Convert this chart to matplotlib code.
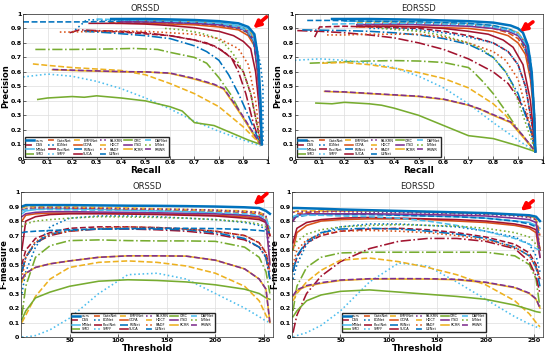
import matplotlib
matplotlib.use("Agg")
import matplotlib.pyplot as plt

# matlab default colours
BLUE = '#0072BD'
ORANGE = '#D95319'
YELLOW = '#EDB120'
PURPLE = '#7E2F8E'
GREEN = '#77AC30'
LBLUE = '#4DBEEE'
DRED = '#A2142F'

methods = ['ours', 'DSS', 'MINet', 'SMD', 'GateNet', 'EGNet', 'PoolNet', 'SMFF',
           'EMFINet', 'GCPA', 'R3Net', 'SUCA', 'PA-KRN', 'HDCT', 'RADF', 'U2Net',
           'CMC', 'ITSD', 'RCRR', 'DAFNet', 'LVNet', 'RRWR']

styles = {
    'ours': (BLUE, '-'), 'DSS': (DRED, '--'), 'MINet': (LBLUE, '-'), 'SMD': (GREEN, '-.'),
    'GateNet': (ORANGE, '--'), 'EGNet': (BLUE, ':'), 'PoolNet': (DRED, '-.'), 'SMFF': (LBLUE, ':'),
    'EMFINet': (YELLOW, '--'), 'GCPA': (ORANGE, '-'), 'R3Net': (BLUE, '-.'), 'SUCA': (DRED, '-'),
    'PA-KRN': (PURPLE, ':'), 'HDCT': (YELLOW, '--'), 'RADF': (ORANGE, ':'), 'U2Net': (BLUE, '--'),
    'CMC': (GREEN, '-'), 'ITSD': (PURPLE, '-'), 'RCRR': (YELLOW, '-'), 'DAFNet': (LBLUE, '--'),
    'LVNet': (GREEN, ':'), 'RRWR': (PURPLE, '--'),
}

# ---------------- PR curves, ORSSD (recall, precision) ----------------
top_r = [0.4, 0.5, 0.6, 0.7, 0.8, 0.88, 0.92, 0.945, 0.96, 0.975]
orssd_pr = {
    'ours': ([0.36, 0.5, 0.6, 0.7, 0.8, 0.88, 0.92, 0.945, 0.96, 0.97, 0.975],
             [0.965, 0.965, 0.962, 0.958, 0.95, 0.935, 0.91, 0.86, 0.7, 0.4, 0.1]),
    'MINet': (top_r, [0.96, 0.96, 0.955, 0.948, 0.938, 0.92, 0.895, 0.84, 0.65, 0.1]),
    'GateNet': ([0.35] + top_r[1:], [0.94, 0.94, 0.935, 0.93, 0.92, 0.9, 0.87, 0.8, 0.6, 0.1]),
    'EMFINet': ([0.45, 0.55, 0.65, 0.75, 0.85, 0.9, 0.93, 0.95, 0.965, 0.975],
                [0.955, 0.952, 0.948, 0.94, 0.92, 0.9, 0.87, 0.78, 0.5, 0.1]),
    'GCPA': ([0.38] + top_r[1:], [0.935, 0.935, 0.93, 0.925, 0.91, 0.89, 0.85, 0.78, 0.55, 0.1]),
    'PA-KRN': (top_r, [0.95, 0.95, 0.945, 0.94, 0.93, 0.91, 0.88, 0.82, 0.6, 0.1]),
    'ITSD': (top_r, [0.945, 0.945, 0.94, 0.935, 0.925, 0.905, 0.875, 0.81, 0.58, 0.1]),
    'DAFNet': ([0.3, 0.4, 0.5, 0.6, 0.7, 0.8, 0.88, 0.92, 0.95, 0.965, 0.975],
               [0.965, 0.96, 0.955, 0.95, 0.945, 0.935, 0.91, 0.88, 0.8, 0.55, 0.1]),
    'U2Net': ([0.0, 0.1, 0.25, 0.4, 0.6, 0.8, 0.9, 0.94, 0.96, 0.975],
              [0.945, 0.945, 0.945, 0.95, 0.945, 0.93, 0.9, 0.82, 0.6, 0.1]),
    'EGNet': ([0.2, 0.26, 0.4, 0.6, 0.8, 0.9, 0.95, 0.97, 0.98, 0.98],
              [0.87, 0.96, 0.955, 0.945, 0.925, 0.89, 0.8, 0.65, 0.5, 0.1]),
    'SUCA': ([0.27, 0.4, 0.5, 0.6, 0.7, 0.8, 0.86, 0.9, 0.93, 0.95, 0.965, 0.975],
             [0.935, 0.935, 0.93, 0.92, 0.905, 0.88, 0.85, 0.81, 0.76, 0.6, 0.35, 0.1]),
    'RADF': ([0.15, 0.2, 0.3, 0.5, 0.7, 0.8, 0.88, 0.92, 0.95, 0.97],
             [0.875, 0.875, 0.88, 0.88, 0.86, 0.83, 0.76, 0.65, 0.4, 0.1]),
    'PoolNet': ([0.19, 0.23, 0.3, 0.4, 0.5, 0.6, 0.7, 0.75, 0.8, 0.85, 0.88, 0.91, 0.94, 0.97],
                [0.87, 0.89, 0.885, 0.88, 0.87, 0.85, 0.82, 0.8, 0.76, 0.7, 0.6, 0.45, 0.25, 0.1]),
    'DSS': ([0.25, 0.4, 0.6, 0.7, 0.78, 0.82, 0.86, 0.9, 0.93, 0.96, 0.97],
            [0.885, 0.875, 0.85, 0.82, 0.78, 0.74, 0.68, 0.6, 0.45, 0.2, 0.1]),
    'R3Net': ([0.25, 0.35, 0.5, 0.6, 0.7, 0.75, 0.8, 0.84, 0.88, 0.92, 0.97],
              [0.88, 0.87, 0.85, 0.83, 0.78, 0.74, 0.68, 0.58, 0.45, 0.3, 0.1]),
    'LVNet': ([0.58, 0.65, 0.72, 0.78, 0.82, 0.86, 0.9, 0.93, 0.96, 0.975],
              [0.9, 0.89, 0.87, 0.84, 0.8, 0.72, 0.6, 0.45, 0.2, 0.1]),
    'SMD': ([0.05, 0.2, 0.35, 0.45, 0.55, 0.6, 0.7, 0.75, 0.8, 0.85, 0.9, 0.97],
            [0.755, 0.755, 0.758, 0.762, 0.755, 0.735, 0.7, 0.66, 0.56, 0.44, 0.28, 0.1]),
    'HDCT': ([0.04, 0.1, 0.2, 0.3, 0.4, 0.5, 0.6, 0.7, 0.8, 0.9, 0.97],
             [0.655, 0.645, 0.63, 0.62, 0.61, 0.58, 0.52, 0.45, 0.36, 0.22, 0.1]),
    'RCRR': ([0.12, 0.2, 0.3, 0.4, 0.5, 0.6, 0.7, 0.78, 0.82, 0.86, 0.9, 0.94, 0.97],
             [0.615, 0.61, 0.605, 0.6, 0.6, 0.59, 0.55, 0.51, 0.48, 0.38, 0.28, 0.17, 0.1]),
    'RRWR': ([0.12, 0.2, 0.3, 0.4, 0.5, 0.6, 0.7, 0.78, 0.82, 0.86, 0.9, 0.94, 0.97],
             [0.617, 0.612, 0.607, 0.602, 0.6, 0.592, 0.555, 0.515, 0.485, 0.39, 0.29, 0.18, 0.1]),
    'SMFF': ([0.0, 0.1, 0.2, 0.3, 0.4, 0.5, 0.6, 0.7, 0.8, 0.9, 0.97],
             [0.565, 0.585, 0.57, 0.535, 0.485, 0.42, 0.345, 0.26, 0.19, 0.13, 0.09]),
    'CMC': ([0.06, 0.1, 0.2, 0.25, 0.3, 0.4, 0.5, 0.6, 0.65, 0.7, 0.78, 0.85, 0.92, 0.97],
            [0.41, 0.42, 0.43, 0.425, 0.435, 0.42, 0.4, 0.36, 0.33, 0.25, 0.23, 0.18, 0.13, 0.1]),
}

# ---------------- PR curves, EORSSD ----------------
e_top = [0.25, 0.4, 0.5, 0.7, 0.8, 0.86, 0.9, 0.93, 0.95, 0.965, 0.97]
eorssd_pr = {
    'ours': ([0.15, 0.3, 0.5, 0.7, 0.8, 0.87, 0.9, 0.92, 0.94, 0.955, 0.965, 0.97],
             [0.965, 0.965, 0.96, 0.95, 0.94, 0.92, 0.9, 0.87, 0.78, 0.6, 0.3, 0.05]),
    'MINet': ([0.2, 0.3, 0.5, 0.7, 0.8, 0.86, 0.9, 0.93, 0.95, 0.965, 0.97],
              [0.95, 0.95, 0.945, 0.935, 0.92, 0.9, 0.87, 0.8, 0.65, 0.35, 0.05]),
    'DAFNet': ([0.15, 0.3, 0.5, 0.7, 0.8, 0.86, 0.9, 0.93, 0.95, 0.96, 0.97],
               [0.93, 0.935, 0.935, 0.925, 0.91, 0.89, 0.86, 0.8, 0.7, 0.5, 0.05]),
    'GateNet': (e_top, [0.92, 0.93, 0.93, 0.92, 0.9, 0.87, 0.83, 0.75, 0.6, 0.3, 0.05]),
    'EMFINet': (e_top, [0.94, 0.945, 0.94, 0.93, 0.915, 0.895, 0.87, 0.8, 0.65, 0.35, 0.05]),
    'GCPA': (e_top, [0.91, 0.915, 0.91, 0.9, 0.88, 0.85, 0.8, 0.72, 0.55, 0.3, 0.05]),
    'PA-KRN': (e_top, [0.93, 0.935, 0.935, 0.925, 0.91, 0.89, 0.86, 0.8, 0.65, 0.35, 0.05]),
    'ITSD': (e_top, [0.925, 0.93, 0.925, 0.915, 0.9, 0.88, 0.85, 0.78, 0.62, 0.33, 0.05]),
    'U2Net': ([0.05, 0.15, 0.3, 0.5, 0.7, 0.8, 0.87, 0.91, 0.94, 0.96, 0.97],
              [0.955, 0.955, 0.95, 0.945, 0.935, 0.92, 0.89, 0.84, 0.7, 0.45, 0.05]),
    'SUCA': ([0.25, 0.4, 0.5, 0.6, 0.7, 0.78, 0.84, 0.88, 0.92, 0.95, 0.97],
             [0.915, 0.915, 0.91, 0.9, 0.88, 0.86, 0.82, 0.77, 0.65, 0.4, 0.05]),
    'EGNet': ([0.3, 0.4, 0.5, 0.6, 0.7, 0.8, 0.86, 0.9, 0.93, 0.95, 0.97],
              [0.9, 0.9, 0.89, 0.87, 0.84, 0.8, 0.74, 0.65, 0.5, 0.3, 0.05]),
    'DSS': ([0.08, 0.1, 0.2, 0.3, 0.5, 0.6, 0.7, 0.8, 0.86, 0.9, 0.93, 0.96, 0.97],
            [0.84, 0.91, 0.915, 0.91, 0.9, 0.88, 0.85, 0.8, 0.74, 0.65, 0.5, 0.2, 0.05]),
    'PoolNet': ([0.01, 0.1, 0.2, 0.3, 0.4, 0.5, 0.6, 0.7, 0.8, 0.86, 0.9, 0.93, 0.96, 0.97],
                [0.885, 0.88, 0.87, 0.855, 0.835, 0.8, 0.755, 0.69, 0.6, 0.52, 0.42, 0.32, 0.15, 0.05]),
    'R3Net': ([0.03, 0.2, 0.3, 0.4, 0.5, 0.6, 0.7, 0.75, 0.8, 0.85, 0.9, 0.95, 0.97],
              [0.89, 0.885, 0.88, 0.87, 0.855, 0.83, 0.79, 0.75, 0.7, 0.6, 0.45, 0.2, 0.05]),
    'RADF': ([0.13, 0.2, 0.3, 0.5, 0.6, 0.7, 0.8, 0.85, 0.9, 0.94, 0.97],
             [0.855, 0.855, 0.86, 0.86, 0.84, 0.8, 0.74, 0.68, 0.55, 0.3, 0.05]),
    'LVNet': ([0.35, 0.5, 0.6, 0.7, 0.76, 0.8, 0.85, 0.88, 0.92, 0.95, 0.97],
              [0.9, 0.88, 0.85, 0.8, 0.75, 0.7, 0.6, 0.5, 0.3, 0.15, 0.05]),
    'SMD': ([0.06, 0.2, 0.3, 0.4, 0.5, 0.6, 0.7, 0.72, 0.76, 0.8, 0.85, 0.9, 0.97],
            [0.66, 0.67, 0.675, 0.678, 0.675, 0.665, 0.63, 0.6, 0.53, 0.45, 0.33, 0.2, 0.05]),
    'HDCT': ([0.11, 0.2, 0.3, 0.4, 0.5, 0.6, 0.7, 0.8, 0.85, 0.9, 0.97],
             [0.66, 0.665, 0.65, 0.625, 0.595, 0.555, 0.49, 0.38, 0.3, 0.2, 0.05]),
    'SMFF': ([0.0, 0.1, 0.2, 0.3, 0.4, 0.5, 0.6, 0.7, 0.8, 0.9, 0.97],
             [0.68, 0.69, 0.68, 0.66, 0.63, 0.57, 0.49, 0.38, 0.25, 0.13, 0.05]),
    'RCRR': ([0.12, 0.2, 0.3, 0.4, 0.5, 0.6, 0.7, 0.75, 0.8, 0.87, 0.92, 0.97],
             [0.465, 0.46, 0.45, 0.44, 0.43, 0.41, 0.37, 0.34, 0.3, 0.25, 0.15, 0.05]),
    'RRWR': ([0.12, 0.2, 0.3, 0.4, 0.5, 0.6, 0.7, 0.75, 0.8, 0.87, 0.92, 0.97],
             [0.467, 0.462, 0.452, 0.442, 0.432, 0.412, 0.372, 0.342, 0.305, 0.255, 0.16, 0.05]),
    'CMC': ([0.085, 0.15, 0.2, 0.3, 0.35, 0.4, 0.5, 0.6, 0.7, 0.75, 0.8, 0.9, 0.97],
            [0.385, 0.38, 0.39, 0.38, 0.37, 0.35, 0.3, 0.23, 0.16, 0.15, 0.14, 0.09, 0.05]),
}

# ---------------- F-measure vs threshold ----------------
thresh = [1, 5, 15, 30, 50, 80, 110, 140, 170, 200, 230, 245, 252, 256]

orssd_f = {
    'MINet': [0.85, 0.87, 0.88, 0.885, 0.885, 0.88, 0.875, 0.87, 0.865, 0.855, 0.84, 0.83, 0.8, 0.75],
    'GateNet': [0.87, 0.885, 0.89, 0.89, 0.89, 0.885, 0.88, 0.875, 0.87, 0.865, 0.86, 0.85, 0.83, 0.7],
    'EMFINet': [0.89, 0.9, 0.9, 0.9, 0.898, 0.895, 0.89, 0.885, 0.88, 0.875, 0.87, 0.86, 0.84, 0.5],
    'GCPA': [0.8, 0.84, 0.85, 0.855, 0.855, 0.855, 0.853, 0.85, 0.845, 0.84, 0.83, 0.82, 0.8, 0.7],
    'PA-KRN': [0.88, 0.885, 0.89, 0.89, 0.89, 0.888, 0.885, 0.882, 0.88, 0.875, 0.865, 0.86, 0.84, 0.6],
    'ITSD': [0.83, 0.85, 0.86, 0.865, 0.865, 0.862, 0.86, 0.857, 0.853, 0.85, 0.84, 0.83, 0.8, 0.5],
    'DAFNet': [0.87, 0.88, 0.88, 0.88, 0.878, 0.875, 0.873, 0.87, 0.865, 0.86, 0.85, 0.84, 0.82, 0.75],
    'U2Net': [0.72, 0.725, 0.73, 0.735, 0.74, 0.745, 0.748, 0.75, 0.75, 0.748, 0.742, 0.735, 0.73, 0.72],
    'EGNet': [0.3, 0.45, 0.62, 0.76, 0.82, 0.835, 0.835, 0.83, 0.82, 0.81, 0.79, 0.77, 0.74, 0.6],
    'SUCA': [0.6, 0.8, 0.83, 0.845, 0.85, 0.85, 0.848, 0.845, 0.84, 0.835, 0.82, 0.81, 0.79, 0.7],
    'LVNet': [0.76, 0.78, 0.8, 0.81, 0.82, 0.83, 0.828, 0.825, 0.82, 0.81, 0.795, 0.78, 0.76, 0.72],
    'DSS': [0.5, 0.6, 0.68, 0.72, 0.75, 0.76, 0.76, 0.755, 0.745, 0.73, 0.7, 0.65, 0.58, 0.45],
    'PoolNet': [0.45, 0.55, 0.65, 0.7, 0.73, 0.745, 0.745, 0.74, 0.73, 0.71, 0.67, 0.62, 0.55, 0.4],
    'R3Net': [0.45, 0.55, 0.65, 0.71, 0.735, 0.745, 0.748, 0.745, 0.74, 0.72, 0.68, 0.62, 0.55, 0.4],
    'RADF': [0.4, 0.55, 0.66, 0.71, 0.73, 0.75, 0.76, 0.755, 0.745, 0.73, 0.7, 0.65, 0.58, 0.45],
    'SMD': [0.15, 0.35, 0.55, 0.63, 0.665, 0.67, 0.665, 0.663, 0.663, 0.66, 0.62, 0.55, 0.45, 0.3],
    'RCRR': [0.38, 0.44, 0.48, 0.505, 0.525, 0.55, 0.56, 0.56, 0.558, 0.53, 0.47, 0.4, 0.33, 0.1],
    'RRWR': [0.4, 0.44, 0.48, 0.505, 0.525, 0.55, 0.56, 0.56, 0.558, 0.53, 0.47, 0.4, 0.33, 0.1],
    'HDCT': [0.1, 0.15, 0.28, 0.4, 0.48, 0.515, 0.525, 0.515, 0.49, 0.44, 0.35, 0.25, 0.15, 0.1],
    'CMC': [0.12, 0.18, 0.27, 0.31, 0.35, 0.385, 0.395, 0.39, 0.38, 0.36, 0.33, 0.3, 0.27, 0.26],
    'SMFF': [0.0, 0.0, 0.01, 0.05, 0.13, 0.3, 0.43, 0.44, 0.4, 0.3, 0.2, 0.14, 0.11, 0.1],
    'ours': [0.9, 0.91, 0.91, 0.91, 0.91, 0.908, 0.906, 0.905, 0.903, 0.9, 0.895, 0.89, 0.87, 0.85],
}

eorssd_f = {
    'MINet': [0.83, 0.84, 0.845, 0.845, 0.845, 0.845, 0.84, 0.835, 0.83, 0.82, 0.8, 0.79, 0.77, 0.75],
    'DAFNet': [0.83, 0.84, 0.84, 0.84, 0.835, 0.83, 0.82, 0.8, 0.77, 0.73, 0.68, 0.64, 0.61, 0.6],
    'GateNet': [0.8, 0.85, 0.86, 0.865, 0.87, 0.87, 0.865, 0.86, 0.855, 0.85, 0.84, 0.83, 0.81, 0.7],
    'EMFINet': [0.86, 0.87, 0.87, 0.87, 0.87, 0.87, 0.868, 0.865, 0.86, 0.855, 0.845, 0.835, 0.82, 0.6],
    'PA-KRN': [0.86, 0.865, 0.865, 0.865, 0.865, 0.86, 0.858, 0.855, 0.85, 0.845, 0.835, 0.825, 0.81, 0.6],
    'ITSD': [0.8, 0.84, 0.85, 0.85, 0.85, 0.85, 0.848, 0.845, 0.84, 0.835, 0.82, 0.81, 0.79, 0.55],
    'GCPA': [0.6, 0.72, 0.77, 0.8, 0.81, 0.815, 0.815, 0.81, 0.8, 0.79, 0.77, 0.75, 0.72, 0.55],
    'SUCA': [0.65, 0.75, 0.79, 0.81, 0.82, 0.825, 0.82, 0.815, 0.81, 0.8, 0.78, 0.76, 0.74, 0.6],
    'U2Net': [0.82, 0.83, 0.84, 0.845, 0.845, 0.845, 0.84, 0.835, 0.83, 0.82, 0.8, 0.78, 0.76, 0.7],
    'EGNet': [0.4, 0.5, 0.64, 0.72, 0.76, 0.78, 0.78, 0.77, 0.76, 0.73, 0.69, 0.64, 0.56, 0.45],
    'DSS': [0.45, 0.55, 0.65, 0.7, 0.73, 0.745, 0.75, 0.74, 0.72, 0.69, 0.64, 0.58, 0.5, 0.4],
    'PoolNet': [0.03, 0.15, 0.3, 0.42, 0.52, 0.61, 0.66, 0.68, 0.68, 0.66, 0.61, 0.52, 0.42, 0.3],
    'R3Net': [0.45, 0.56, 0.66, 0.72, 0.745, 0.75, 0.745, 0.73, 0.71, 0.68, 0.62, 0.56, 0.48, 0.35],
    'RADF': [0.5, 0.6, 0.67, 0.71, 0.73, 0.735, 0.73, 0.72, 0.7, 0.67, 0.62, 0.56, 0.48, 0.4],
    'LVNet': [0.6, 0.66, 0.71, 0.74, 0.76, 0.77, 0.775, 0.77, 0.765, 0.75, 0.72, 0.69, 0.64, 0.6],
    'SMD': [0.18, 0.35, 0.48, 0.55, 0.58, 0.585, 0.585, 0.585, 0.585, 0.585, 0.56, 0.5, 0.4, 0.2],
    'HDCT': [0.25, 0.3, 0.38, 0.46, 0.53, 0.545, 0.52, 0.48, 0.43, 0.36, 0.25, 0.16, 0.1, 0.07],
    'SMFF': [0.0, 0.01, 0.03, 0.08, 0.18, 0.38, 0.51, 0.49, 0.38, 0.26, 0.14, 0.09, 0.07, 0.06],
    'RCRR': [0.28, 0.32, 0.35, 0.37, 0.39, 0.4, 0.4, 0.4, 0.395, 0.375, 0.34, 0.3, 0.26, 0.2],
    'RRWR': [0.285, 0.325, 0.355, 0.375, 0.393, 0.402, 0.403, 0.402, 0.398, 0.378, 0.343, 0.303, 0.263, 0.2],
    'CMC': [0.14, 0.18, 0.25, 0.29, 0.315, 0.325, 0.31, 0.295, 0.28, 0.26, 0.22, 0.19, 0.175, 0.17],
    'ours': [0.89, 0.89, 0.888, 0.885, 0.88, 0.875, 0.87, 0.865, 0.86, 0.855, 0.845, 0.84, 0.83, 0.8],
}

y_ticks = [i / 10 for i in range(11)]
y_labels = ['0', '0.1', '0.2', '0.3', '0.4', '0.5', '0.6', '0.7', '0.8', '0.9', '1']
r_labels = y_labels
t_ticks = [50, 100, 150, 200, 250]

fig = plt.figure(figsize=(5.5, 3.57), dpi=100)
ax_tl = fig.add_axes([0.042, 0.555, 0.445, 0.406])
ax_tr = fig.add_axes([0.536, 0.555, 0.451, 0.406])
ax_bl = fig.add_axes([0.038, 0.056, 0.458, 0.406])
ax_br = fig.add_axes([0.531, 0.056, 0.456, 0.406])


def draw(ax, curves, xs=None):
    handles = {}
    order = [m for m in methods if m != 'ours'] + ['ours']
    for m in order:
        c, ls = styles[m]
        if xs is None:
            x, y = curves[m]
        else:
            x, y = xs, curves[m]
        lw = 1.8 if m == 'ours' else 1.15
        h, = ax.plot(x, y, color=c, ls=ls, lw=lw, label=m)
        handles[m] = h
    return [handles[m] for m in methods]


def style_ax(ax, title, xlabel, ylabel):
    ax.set_title(title, fontsize=6, pad=2, color='#262626')
    ax.set_xlabel(xlabel, fontsize=6.5, fontweight='bold', labelpad=0.5)
    ax.set_ylabel(ylabel, fontsize=6, fontweight='bold', labelpad=0)
    ax.set_ylim(0, 1)
    ax.set_yticks(y_ticks)
    ax.set_yticklabels(y_labels)
    ax.grid(True, color='#dddddd', lw=0.5)
    ax.set_axisbelow(True)
    ax.tick_params(labelsize=4.6, length=2, width=0.4, direction='in', pad=1)
    for lab in ax.get_xticklabels() + ax.get_yticklabels():
        lab.set_fontweight('bold')
    for s in ax.spines.values():
        s.set_color('#262626')
        s.set_linewidth(0.5)


def add_legend(ax, handles, anchor, loc):
    ax.legend(handles, methods, ncol=6, fontsize=2.5, loc=loc, bbox_to_anchor=anchor,
              handlelength=2.3, handletextpad=0.4, columnspacing=0.6, borderpad=0.3,
              labelspacing=0.15, frameon=True, fancybox=False, edgecolor='#262626',
              framealpha=1)


def arrow(ax, tip, tail):
    ax.annotate('', xy=tip, xytext=tail,
                arrowprops=dict(arrowstyle='-|>', color='red', lw=2.6, mutation_scale=10,
                                shrinkA=0, shrinkB=0))


h = draw(ax_tl, orssd_pr)
ax_tl.set_xlim(0, 1)
ax_tl.set_xticks(y_ticks)
ax_tl.set_xticklabels(r_labels)
style_ax(ax_tl, 'ORSSD', 'Recall', 'Precision')
add_legend(ax_tl, h, (0.0, 0.0), 'lower left')
arrow(ax_tl, (0.94, 0.9), (0.995, 0.98))

h = draw(ax_tr, eorssd_pr)
ax_tr.set_xlim(0, 1)
ax_tr.set_xticks(y_ticks)
ax_tr.set_xticklabels(r_labels)
style_ax(ax_tr, 'EORSSD', 'Recall', 'Precision')
add_legend(ax_tr, h, (0.0, 0.0), 'lower left')
arrow(ax_tr, (0.907, 0.876), (0.96, 0.945))

h = draw(ax_bl, orssd_f, thresh)
ax_bl.set_xlim(0, 259)
ax_bl.set_xticks(t_ticks)
style_ax(ax_bl, 'ORSSD', 'Threshold', 'F-measure')
add_legend(ax_bl, h, (0.485, 0.02), 'lower center')
arrow(ax_bl, (239, 0.91), (253, 0.99))

h = draw(ax_br, eorssd_f, thresh)
ax_br.set_xlim(0, 259)
ax_br.set_xticks(t_ticks)
style_ax(ax_br, 'EORSSD', 'Threshold', 'F-measure')
add_legend(ax_br, h, (0.485, 0.02), 'lower center')
arrow(ax_br, (236, 0.87), (249, 0.94))

fig.savefig('out.png', dpi=100)
